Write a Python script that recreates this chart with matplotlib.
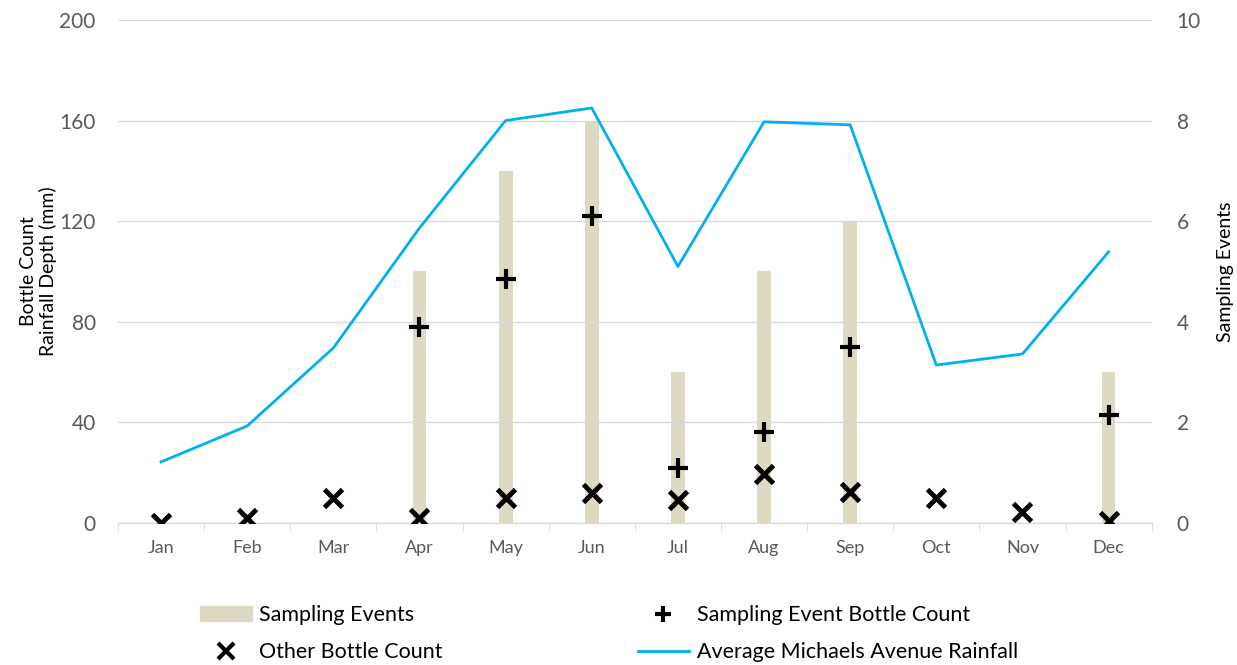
import numpy as np
import matplotlib.pyplot as plt
from matplotlib.lines import Line2D
from matplotlib.patches import Patch

plt.rcParams['font.family'] = ['Lato', 'DejaVu Sans']

months = ['Jan', 'Feb', 'Mar', 'Apr', 'May', 'Jun', 'Jul', 'Aug', 'Sep', 'Oct', 'Nov', 'Dec']
rainfall = [24.3, 38.6, 69.6, 117.3, 160, 165, 102, 159.5, 158.3, 62.8, 67.2, 107.8]
sampling_events = [0, 0, 0, 5, 7, 8, 3, 5, 6, 0, 0, 3]
event_bottles = [np.nan, np.nan, np.nan, 78, 97, 122, 22, 36, 70, np.nan, np.nan, 43]
other_bottles = [0, 2, 10, 2, 10, 12, 9, 19.5, 12.3, 10, 4.4, 1]

x = np.arange(len(months))
grey = '#595959'

fig = plt.figure(figsize=(12.37, 6.65), dpi=100)
ax = fig.add_axes([0.0954, 0.2135, 0.8356, 0.7565])
ax2 = ax.twinx()

ax2.bar(x, sampling_events, width=0.16, color='#DDD9C3', zorder=1)
ax2.set_ylim(0, 10)
ax2.set_yticks([0, 2, 4, 6, 8, 10])

# put the line/markers axes above the bars
ax.set_zorder(ax2.get_zorder() + 1)
ax.patch.set_visible(False)

ax.plot(x, rainfall, color='#00B0F0', lw=2, zorder=3)
ax.plot(x, event_bottles, ls='none', marker='+', ms=15, mew=3, color='black', zorder=4)
ax.plot(x, other_bottles, ls='none', marker='x', ms=13, mew=3.5, color='black', zorder=4)

ax.set_ylim(0, 200)
ax.set_yticks([0, 40, 80, 120, 160, 200])
ax.set_xlim(-0.5, 11.5)
ax.set_xticks(x)
ax.set_xticklabels(months)
ax.set_xticks(np.arange(-0.5, 12, 1), minor=True)
ax.tick_params(axis='x', which='major', length=0, labelsize=13, labelcolor=grey, pad=12)
ax.tick_params(axis='x', which='minor', length=6, color='#D9D9D9')
ax.tick_params(axis='y', length=0, labelsize=15, labelcolor=grey, pad=16)
ax2.tick_params(axis='y', length=0, labelsize=15, labelcolor=grey, pad=18)
ax.grid(axis='y', color='#D9D9D9', lw=1)
ax.set_axisbelow(True)

for a in (ax, ax2):
    for s in ['top', 'left', 'right']:
        a.spines[s].set_visible(False)
    a.spines['bottom'].set_color('#D9D9D9')

ax.set_ylabel('Bottle Count\nRainfall Depth (mm)', fontsize=14, linespacing=1.15)
ax.yaxis.set_label_coords(-0.059, 0.5)
ax2.set_ylabel('Sampling Events', fontsize=14)
ax2.yaxis.set_label_coords(1.063, 0.5)

handles = [
    Patch(color='#DDD9C3'),
    Line2D([], [], ls='none', marker='x', ms=11, mew=3, color='black'),
    Line2D([], [], ls='none', marker='+', ms=11, mew=3, color='black'),
    Line2D([], [], color='#00B0F0', lw=2),
]
labels = ['Sampling Events', 'Other Bottle Count', 'Sampling Event Bottle Count',
          'Average Michaels Avenue Rainfall']
fig.legend(handles, labels, ncol=2, loc='upper left', bbox_to_anchor=(0.146, 0.119),
           frameon=False, fontsize=15.5, handlelength=2.4, columnspacing=9.05,
           handletextpad=0.35, labelspacing=0.8)

fig.savefig('out.png', dpi=100)
